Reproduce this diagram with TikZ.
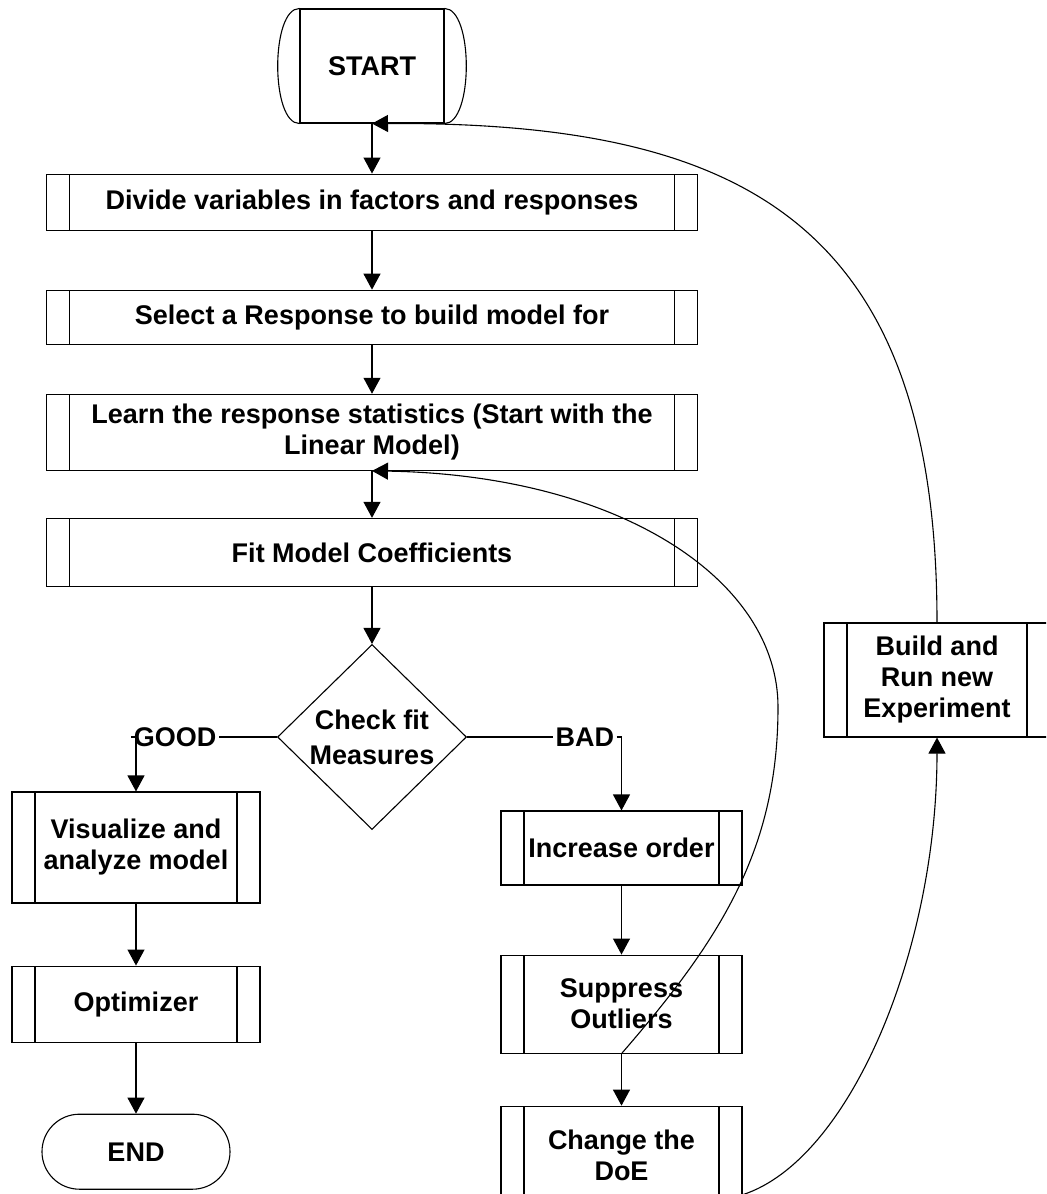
\documentclass[tikz,border=0pt]{standalone}
\usepackage{fontspec}
\setmainfont{Liberation Sans}
\usepackage{tikz}
\usetikzlibrary{shapes.geometric,arrows.meta,positioning}

\newcommand{\flowfont}{\bfseries\fontsize{13.5}{15.5}\selectfont}

\tikzset{
	proc/.style={draw, rectangle, align=center, inner sep=0pt, font=\flowfont,
		path picture={
			\draw ([xshift=11.5pt]path picture bounding box.north west) -- ([xshift=11.5pt]path picture bounding box.south west);
			\draw ([xshift=-11.5pt]path picture bounding box.north east) -- ([xshift=-11.5pt]path picture bounding box.south east);
		}},
	startbox/.style={draw, rectangle, align=center, inner sep=0pt, font=\flowfont, minimum width=72pt, minimum height=57pt},
	endbox/.style={draw, rectangle, rounded corners=18.7pt, align=center, inner sep=0pt, font=\flowfont, minimum width=94pt, minimum height=37.5pt},
	decision/.style={draw, diamond, align=center, inner sep=0pt, font=\flowfont, minimum width=94.5pt, minimum height=92.5pt},
	lbl/.style={inner sep=1pt, font=\flowfont},
	arr/.style={-{Triangle[length=8pt,width=8.5pt]}},
}

\begin{document}
\begin{tikzpicture}[x=0.5pt, y=-0.5pt, line width=0.55pt]
	\useasboundingbox (0,0) rectangle (1046,1194);
	\clip (0,0) rectangle (1046,1194);

	\node[startbox] (start) at (372,66) {START};
	\draw (start.north west) .. controls +(-29,0) and +(-29,0) .. (start.south west);
	\draw (start.north east) .. controls +(29,0) and +(29,0) .. (start.south east);

	\node[proc, minimum width=325.5pt, minimum height=28pt, below=25pt of start] (divide) {Divide variables in factors and responses};
	\node[proc, minimum width=325.5pt, minimum height=27pt, below=29.5pt of divide] (select) {Select a Response to build model for};
	\node[proc, minimum width=325.5pt, minimum height=38pt, below=24.5pt of select] (learn) {Learn the response statistics (Start with the\\Linear Model)};
	\node[proc, minimum width=325.5pt, minimum height=34pt, below=23.5pt of learn] (fit) {Fit Model Coefficients};
	\node[decision, below=28.5pt of fit] (check) {Check fit\\[2pt]Measures};

	\node[lbl, left=29pt of check.west] (good) {GOOD};
	\node[lbl, right=43pt of check.east] (bad) {BAD};

	\node[proc, minimum width=124pt, minimum height=55.5pt] (visual) at (136,847.5) {Visualize and\\analyze model};
	\node[proc, minimum width=124pt, minimum height=38pt, below=31pt of visual] (optim) {Optimizer};
	\node[endbox, below=35.5pt of optim] (finish) {END};

	\node[proc, minimum width=120.5pt, minimum height=37pt] (incr) at (621.5,848) {Increase order};
	\node[proc, minimum width=120.5pt, minimum height=49pt, below=34.5pt of incr] (suppr) {Suppress\\Outliers};
	\node[proc, minimum width=120.5pt, minimum height=49pt, below=26pt of suppr] (change) {Change the\\DoE};

	\node[proc, minimum width=113pt, minimum height=57pt] (build) at (937,680) {Build and\\Run new\\Experiment};

	\coordinate (swing) at (778,707);

	\draw[arr] (start.south) -- (divide.north);
	\draw[arr] (divide) -- (select);
	\draw[arr] (select) -- (learn);
	\draw[arr] (learn) -- (fit);
	\draw[arr] (fit) -- (check);
	\draw (check.west) -- (good.east);
	\draw[arr] (good.west) -| (visual.north);
	\draw (check.east) -- (bad.west);
	\draw[arr] (bad.east) -| (incr.north);
	\draw[arr] (visual) -- (optim);
	\draw[arr] (optim) -- (finish);
	\draw[arr] (incr) -- (suppr);
	\draw[arr] (suppr) -- (change);

	\draw[arr] (suppr.south) .. controls (720,940) and (778,850) .. (swing) .. controls (778,580) and (620,475) .. (learn.south);
	\draw[arr] ([yshift=5pt]change.south east) .. controls (850,1160) and (937,950) .. (build.south);
	\draw[arr] (build.north) .. controls (937,220) and (740,122) .. (start.south);
\end{tikzpicture}
\end{document}
